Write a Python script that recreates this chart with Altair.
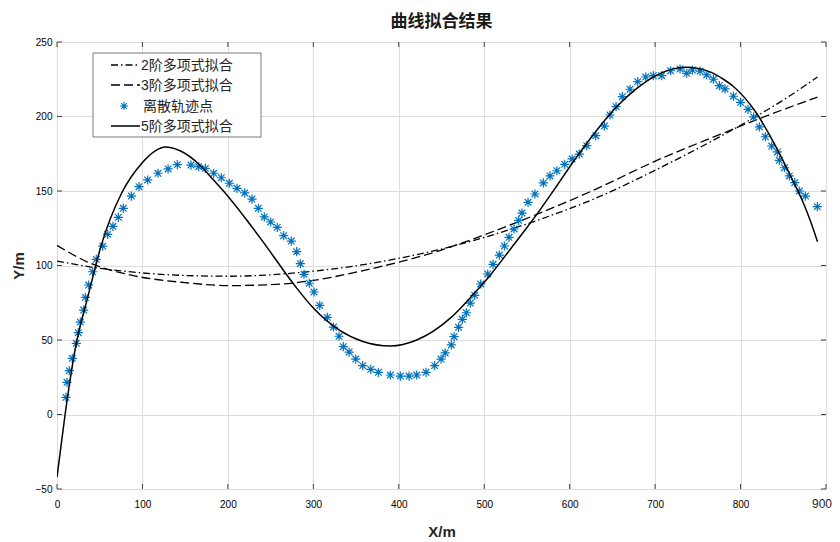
import altair as alt
import pandas as pd

# ---- data ----
scatter_x = [10.5, 11.7, 14.4, 17.9, 22.6, 24.9, 27.3, 31.2, 33.2, 37.1, 41.8, 46.0, 53.5, 59.3,
             65.5, 71.8, 77.6, 87.0, 96.0, 106.1, 118.2, 130.0, 140.8, 156.8, 165.8, 173.6,
             183.4, 192.3, 201.7, 210.7, 219.7, 228.2, 235.6, 242.6, 250.1, 257.8, 265.3,
             274.2, 280.5, 284.8, 289.1, 295.3, 300.8, 307.5, 316.4, 323.5, 330.1, 335.1,
             341.9, 349.6, 357.8, 367.2, 376.1, 390.1, 401.8, 412.0, 421.0, 431.9, 442.0,
             449.5, 454.3, 461.5, 464.7, 470.0, 474.4, 479.1, 483.7, 488.9, 495.9, 504.1,
             510.3, 517.7, 523.6, 529.0, 534.9, 540.3, 544.2, 551.3, 559.4, 569.2, 577.0,
             585.0, 594.2, 602.8, 611.3, 620.0, 630.5, 640.6, 647.2, 654.3, 661.6, 670.6,
             679.6, 689.0, 697.9, 707.7, 718.2, 729.2, 737.0, 743.6, 752.6, 760.4, 768.2,
             775.2, 781.8, 791.6, 800.0, 808.8, 815.4, 822.0, 829.0, 836.5, 843.1, 845.4,
             851.3, 857.1, 863.4, 868.8, 875.9, 889.9]
scatter_y = [11.5, 21.6, 29.4, 37.7, 47.8, 54.9, 62.0, 70.1, 78.6, 86.9, 95.8, 104.1, 113.0, 120.9,
             126.3, 132.3, 138.4, 146.6, 152.9, 157.4, 161.9, 164.8, 167.7, 167.4, 166.3, 165.2,
             161.9, 158.9, 155.2, 151.8, 148.7, 144.6, 138.4, 132.6, 129.2, 125.6, 120.0,
             116.4, 109.3, 101.2, 94.1, 88.1, 82.2, 73.2, 65.2, 58.7, 52.5, 45.5,
             41.9, 37.2, 32.8, 30.3, 28.3, 26.5, 25.8, 25.8, 26.5, 28.3, 32.8,
             37.2, 41.3, 46.7, 52.2, 58.5, 63.9, 68.3, 74.8, 80.0, 87.6, 94.3,
             100.8, 107.0, 113.1, 118.9, 124.5, 130.3, 135.2, 142.4, 148.0, 155.4, 160.1,
             163.6, 167.9, 171.5, 174.8, 180.4, 187.1, 193.6, 201.0, 206.6, 213.3, 218.3,
             223.4, 226.5, 227.4, 227.4, 230.7, 231.9, 229.0, 231.2, 230.5, 227.9, 225.0,
             220.7, 218.5, 213.6, 209.5, 204.8, 199.7, 193.0, 186.4, 180.2, 176.2, 170.6,
             165.6, 160.1, 155.6, 150.0, 146.6, 139.5]

fit2_x = [0, 37, 87, 150, 202, 261, 300, 350, 398, 448, 495, 558, 636, 702, 776, 815, 854, 890]
fit2_y = [103.0, 99.2, 95.7, 93.3, 92.8, 94.2, 96.2, 99.8, 104.6, 110.8, 118.0, 129.5, 146.5,
          164.5, 186.5, 199.0, 212.5, 226.5]

fit3_x = [0, 37, 87, 150, 202, 261, 300, 350, 398, 448, 495, 558, 624, 702, 776, 815, 854, 890]
fit3_y = [113.5, 102.0, 93.5, 88.5, 86.5, 87.5, 90.0, 95.5, 102.0, 110.0, 119.5, 133.5, 149.5,
          170.5, 188.0, 197.0, 205.5, 213.0]

fit5_x = [0, 9, 21, 37, 52, 76, 99, 115, 127, 144, 167, 183, 200, 214, 222, 241, 261, 269, 281,
          300, 331, 358, 390, 421, 460, 487, 507, 526, 546, 563, 585, 604, 632, 655, 679, 702,
          720, 735, 750, 765, 780, 792, 805, 819, 834, 850, 862, 873.5, 882, 890]
fit5_y = [-42.0, -2.0, 43.0, 81.0, 114.0, 149.0, 168.5, 177.0, 179.5, 177.0, 167.5, 157.5, 146.5,
          136.5, 130.5, 116.0, 100.0, 93.6, 84.5, 71.5, 56.5, 49.0, 46.0, 50.0, 64.5, 80.5, 93.5,
          107.5, 122.5, 135.5, 153.5, 169.5, 191.0, 206.5, 219.0, 227.8, 231.8, 233.0, 232.3,
          229.8, 225.0, 220.0, 212.5, 202.0, 187.5, 170.0, 156.0, 142.0, 129.5, 116.0]

x_ticks = [0, 100, 200, 300, 400, 500, 600, 700, 800, 900]
y_ticks = [-50, 0, 50, 100, 150, 200, 250]
legend_labels = ["2阶多项式拟合", "3阶多项式拟合", "离散轨迹点", "5阶多项式拟合"]

# ---- layout / style ----
W, H = 769, 447
LATIN = "Liberation Sans"
CJK = "Liberation Sans, Noto Sans CJK SC"
BLUE = "#0072BD"
TXT = "#262626"
ASTERISK = "M-1,0L1,0M0,-1L0,1M-0.72,-0.72L0.72,0.72M-0.72,0.72L0.72,-0.72"
DASHDOT = [7, 3, 1.5, 3]
DASH = [9, 4]

xs = alt.Scale(domain=[0, 900], nice=False, zero=False)
ys = alt.Scale(domain=[-50, 250], nice=False, zero=False)

last_x = x_ticks[-1]
x_axis = alt.Axis(values=x_ticks, title="X/m", grid=True, domain=False, ticks=False,
                  labelPadding=10, titleX=W / 2, titleY=42, titleBaseline="middle",
                  labelFlush=False, titleFontSize=15, titleFont=LATIN, titleFontWeight="bold",
                  titleColor=TXT, labelExpr=f"datum.value == {last_x} ? '' : datum.label")
y_axis = alt.Axis(values=y_ticks, title="Y/m", grid=True, domain=False, ticks=False,
                  labelPadding=5, titleX=-39, titleY=H / 2, titleBaseline="middle",
                  titleAngle=270, labelFlush=False, titleFontSize=15, titleFont=LATIN,
                  titleFontWeight="bold", titleColor=TXT)

df_s = pd.DataFrame({"x": scatter_x, "y": scatter_y})
df2 = pd.DataFrame({"x": fit2_x, "y": fit2_y})
df3 = pd.DataFrame({"x": fit3_x, "y": fit3_y})
df5 = pd.DataFrame({"x": fit5_x, "y": fit5_y})
df_xt = pd.DataFrame({"x": x_ticks})
df_yt = pd.DataFrame({"y": y_ticks})
df_last = pd.DataFrame({"x": [last_x], "label": [str(last_x)]})

line2 = alt.Chart(df2).mark_line(color="black", strokeWidth=1.3, strokeDash=DASHDOT,
                                 interpolate="monotone", clip=True).encode(
    x=alt.X("x:Q", scale=xs, axis=x_axis), y=alt.Y("y:Q", scale=ys, axis=y_axis))
line3 = alt.Chart(df3).mark_line(color="black", strokeWidth=1.3, strokeDash=DASH,
                                 interpolate="monotone", clip=True).encode(
    x=alt.X("x:Q", scale=xs), y=alt.Y("y:Q", scale=ys))
pts = alt.Chart(df_s).mark_point(shape=ASTERISK, size=84, filled=False, stroke=BLUE,
                                 strokeWidth=1.2, opacity=1).encode(
    x=alt.X("x:Q", scale=xs), y=alt.Y("y:Q", scale=ys))
line5 = alt.Chart(df5).mark_line(color="black", strokeWidth=1.5,
                                 interpolate="monotone", clip=True).encode(
    x=alt.X("x:Q", scale=xs), y=alt.Y("y:Q", scale=ys))

# last x tick label, nudged so it stays inside the page
last_lbl = alt.Chart(df_last).mark_text(
    align="right", baseline="top", dx=6, font=LATIN, fontSize=12, color=TXT).encode(
    x=alt.X("x:Q", scale=xs), y=alt.value(H + 10), text=alt.Text("label:N"))

TICK = "#404040"
xt_bot = alt.Chart(df_xt).mark_rule(color=TICK, strokeWidth=1).encode(
    x=alt.X("x:Q", scale=xs), y=alt.value(H), y2=alt.value(H - 5))
xt_top = alt.Chart(df_xt).mark_rule(color=TICK, strokeWidth=1).encode(
    x=alt.X("x:Q", scale=xs), y=alt.value(0), y2=alt.value(5))
yt_left = alt.Chart(df_yt).mark_rule(color=TICK, strokeWidth=1).encode(
    y=alt.Y("y:Q", scale=ys), x=alt.value(0), x2=alt.value(5))
yt_right = alt.Chart(df_yt).mark_rule(color=TICK, strokeWidth=1).encode(
    y=alt.Y("y:Q", scale=ys), x=alt.value(W - 5), x2=alt.value(W))

# ---- legend (drawn by hand, inside the plot) ----
one = pd.DataFrame({"k": [0]})
LX0, LX1, LYT, LYB = 36, 204, 11, 95
rows_y = [23, 43, 64, 84]
leg_box = alt.Chart(one).mark_rect(fill="white", stroke="#555555", strokeWidth=0.8).encode(
    x=alt.value(LX0), x2=alt.value(LX1), y=alt.value(LYT), y2=alt.value(LYB))
leg_l2 = alt.Chart(one).mark_rule(color="black", strokeWidth=1.3, strokeDash=DASHDOT).encode(
    x=alt.value(54), x2=alt.value(83), y=alt.value(rows_y[0]))
leg_l3 = alt.Chart(one).mark_rule(color="black", strokeWidth=1.3, strokeDash=DASH).encode(
    x=alt.value(54), x2=alt.value(83), y=alt.value(rows_y[1]))
leg_p = alt.Chart(one).mark_point(shape=ASTERISK, size=64, filled=False, stroke=BLUE,
                                  strokeWidth=1.1, opacity=1).encode(
    x=alt.value(67), y=alt.value(rows_y[2]))
leg_l5 = alt.Chart(one).mark_rule(color="black", strokeWidth=1.5).encode(
    x=alt.value(54), x2=alt.value(83), y=alt.value(rows_y[3]))
leg_texts = []
for lab, ry in zip(legend_labels, rows_y):
    leg_texts.append(
        alt.Chart(pd.DataFrame({"label": [lab]})).mark_text(
            align="left", baseline="middle", font=CJK, fontSize=14, color=TXT).encode(
            x=alt.value(84 if lab[0].isdigit() else 86), y=alt.value(ry + 1),
            text=alt.Text("label:N")))

chart = alt.layer(
    line2, line3, pts, line5, last_lbl, xt_bot, xt_top, yt_left, yt_right,
    leg_box, leg_l2, leg_l3, leg_p, leg_l5, *leg_texts
).properties(
    width=W, height=H,
    title=alt.Title("曲线拟合结果", font="Noto Sans CJK SC", fontSize=17, fontWeight="bold",
                    color="#1a1a1a", offset=6, anchor="middle"),
    autosize=alt.AutoSizeParams(type="none"),
    padding={"left": 49, "top": 34, "right": 6, "bottom": 52},
).configure_view(
    stroke="#3a3a3a", strokeWidth=1
).configure_axis(
    labelFont=LATIN, labelFontSize=12, labelColor=TXT,
    gridColor="#e3e3e3", gridWidth=1,
).configure(background="white")

chart.save("out.html", embed_options={"renderer": "svg", "actions": False})
